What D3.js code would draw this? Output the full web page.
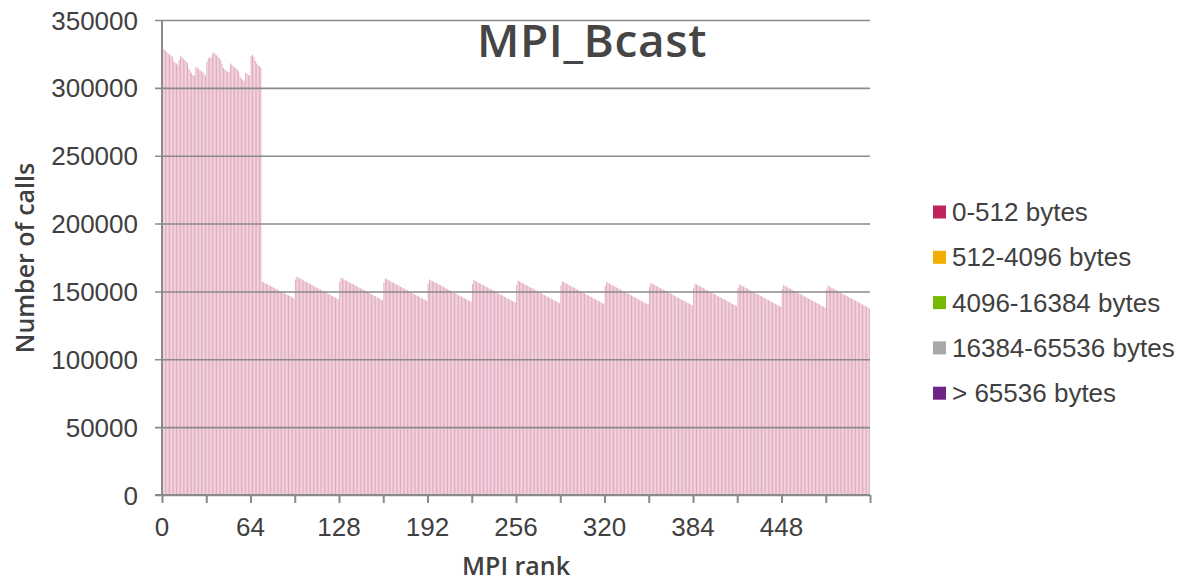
<!DOCTYPE html>
<html>
<head>
<meta charset="utf-8">
<style>
    body {
        margin: 0;
        background: #fff;
    }
    svg {
        display: block;
    }
    .tick-label {
        font-family: "Liberation Sans", Arial, sans-serif;
        font-size: 26px;
        fill: #404040;
    }
    .axis-title {
        font-family: "Open Sans", sans-serif;
        font-size: 25px;
        font-weight: 600;
        fill: #404040;
    }
    .chart-title {
        font-family: "Open Sans", sans-serif;
        font-size: 46px;
        font-weight: 600;
        letter-spacing: 0.6px;
        fill: #454545;
    }
    .legend-label {
        font-family: "Liberation Sans", Arial, sans-serif;
        font-size: 26px;
        fill: #404040;
    }
</style>
</head>
<body>
<script src="https://cdn.jsdelivr.net/npm/d3@7"></script>
<script>

    // number of MPI_Bcast calls per rank (0-512 bytes)
    var calls = [
        // ranks 0-71
        329000, 328500, 327500, 326500, 325500, 324500, 324000, 323000, 319500, 318500,
        318000, 317000, 320500, 323500, 322500, 321500, 320500, 319500, 318500, 314000,
        312500, 311000, 309500, 309000, 315500, 315000, 314000, 313000, 312500, 311500,
        310500, 309000, 319000, 321500, 322500, 322000, 325000, 326000, 325000, 324000,
        323000, 322000, 320500, 317500, 314500, 313500, 312500, 312000, 311500, 318000,
        317000, 316000, 315000, 314500, 313500, 312000, 308500, 307000, 306000, 305000,
        311000, 310500, 309500, 309000, 323500, 324500, 322500, 320000, 318000, 317000,
        316000, 315000,
        // ranks 72-95
        157200, 156700, 156200, 155600, 155100, 154600, 154000, 153500, 153000, 152400,
        151900, 151400, 150800, 150300, 149800, 149200, 148700, 148200, 147600, 147100,
        146600, 146000, 145500, 145000,
        // ranks 96-127
        158800, 160800, 160200, 159700, 159100, 158600, 158000, 157500, 156900, 156400,
        155800, 155300, 154700, 154200, 153600, 153100, 152500, 152000, 151400, 150800,
        150300, 149700, 149200, 148600, 148100, 147500, 147000, 146400, 145900, 145300,
        144800, 144200,
        // ranks 128-159
        157100, 160100, 159500, 159000, 158400, 157900, 157300, 156800, 156200, 155700,
        155100, 154600, 154000, 153500, 152900, 152400, 151800, 151300, 150700, 150100,
        149600, 149000, 148500, 147900, 147400, 146800, 146300, 145700, 145200, 144600,
        144100, 143500,
        // ranks 160-191
        156600, 159600, 159000, 158500, 157900, 157400, 156800, 156300, 155700, 155200,
        154600, 154100, 153500, 153000, 152400, 151900, 151300, 150800, 150200, 149600,
        149100, 148500, 148000, 147400, 146900, 146300, 145800, 145200, 144700, 144100,
        143600, 143000,
        // ranks 192-223
        155900, 158900, 158300, 157800, 157200, 156700, 156100, 155600, 155000, 154500,
        153900, 153400, 152800, 152300, 151700, 151200, 150600, 150100, 149500, 148900,
        148400, 147800, 147300, 146700, 146200, 145600, 145100, 144500, 144000, 143400,
        142900, 142300,
        // ranks 224-255
        155400, 158400, 157800, 157300, 156700, 156200, 155600, 155100, 154500, 154000,
        153400, 152900, 152300, 151800, 151200, 150700, 150100, 149600, 149000, 148400,
        147900, 147300, 146800, 146200, 145700, 145100, 144600, 144000, 143500, 142900,
        142400, 141800,
        // ranks 256-287
        154900, 157900, 157300, 156800, 156200, 155700, 155100, 154600, 154000, 153500,
        152900, 152400, 151800, 151300, 150700, 150200, 149600, 149100, 148500, 147900,
        147400, 146800, 146300, 145700, 145200, 144600, 144100, 143500, 143000, 142400,
        141900, 141300,
        // ranks 288-319
        154400, 157400, 156800, 156300, 155700, 155200, 154600, 154100, 153500, 153000,
        152400, 151900, 151300, 150800, 150200, 149700, 149100, 148600, 148000, 147400,
        146900, 146300, 145800, 145200, 144700, 144100, 143600, 143000, 142500, 141900,
        141400, 140800,
        // ranks 320-351
        153900, 156900, 156300, 155800, 155200, 154700, 154100, 153600, 153000, 152500,
        151900, 151400, 150800, 150300, 149700, 149200, 148600, 148100, 147500, 146900,
        146400, 145800, 145300, 144700, 144200, 143600, 143100, 142500, 142000, 141400,
        140900, 140300,
        // ranks 352-383
        153300, 156300, 155700, 155200, 154600, 154100, 153500, 153000, 152400, 151900,
        151300, 150800, 150200, 149700, 149100, 148600, 148000, 147500, 146900, 146300,
        145800, 145200, 144700, 144100, 143600, 143000, 142500, 141900, 141400, 140800,
        140300, 139700,
        // ranks 384-415
        152700, 155700, 155100, 154600, 154000, 153500, 152900, 152400, 151800, 151300,
        150700, 150200, 149600, 149100, 148500, 148000, 147400, 146900, 146300, 145700,
        145200, 144600, 144100, 143500, 143000, 142400, 141900, 141300, 140800, 140200,
        139700, 139100,
        // ranks 416-447
        152200, 155200, 154600, 154100, 153500, 153000, 152400, 151900, 151300, 150800,
        150200, 149700, 149100, 148600, 148000, 147500, 146900, 146400, 145800, 145200,
        144700, 144100, 143600, 143000, 142500, 141900, 141400, 140800, 140300, 139700,
        139200, 138600,
        // ranks 448-479
        151700, 154700, 154100, 153600, 153000, 152500, 151900, 151400, 150800, 150300,
        149700, 149200, 148600, 148100, 147500, 147000, 146400, 145900, 145300, 144700,
        144200, 143600, 143100, 142500, 142000, 141400, 140900, 140300, 139800, 139200,
        138700, 138100,
        // ranks 480-511
        151200, 154200, 153600, 153100, 152500, 152000, 151400, 150900, 150300, 149800,
        149200, 148700, 148100, 147600, 147000, 146500, 145900, 145400, 144800, 144200,
        143700, 143100, 142600, 142000, 141500, 140900, 140400, 139800, 139300, 138700,
        138200, 137600
    ];

    var ranks = d3.range(calls.length);

    var xTicks = [0, 32, 64, 96, 128, 160, 192, 224, 256, 288, 320, 352, 384, 416, 448, 480, 512];
    var xLabels = [0, 64, 128, 192, 256, 320, 384, 448];
    var yTicks = [0, 50000, 100000, 150000, 200000, 250000, 300000, 350000];

    var legendNames = ["0-512 bytes", "512-4096 bytes", "4096-16384 bytes", "16384-65536 bytes", "> 65536 bytes"];
    var legendColors = ["#c0245c", "#f2ad00", "#76b900", "#a8a8a8", "#6e2585"];

    var width = 1188,
        height = 581,
        plotLeft = 162,
        plotRight = 870,
        plotTop = 20,
        plotBottom = 495,
        axisColor = "#8a8a8a";

    var svg = d3.select("body").append("svg")
        .attr("width", width)
        .attr("height", height);

    var x = d3.scaleBand()
        .domain(ranks)
        .range([plotLeft, plotRight])
        .paddingInner(0.3)
        .paddingOuter(0.1);

    var xPos = d3.scaleLinear()
        .domain([0, calls.length])
        .range([plotLeft, plotRight]);

    var y = d3.scaleLinear()
        .domain([0, 350000])
        .range([plotBottom, plotTop]);

    // bars
    svg.append("g")
        .selectAll("rect")
        .data(calls)
      .enter().append("rect")
        .attr("x", function(d, i) {return x(i)})
        .attr("y", function(d) {return y(d)})
        .attr("width", x.bandwidth())
        .attr("height", function(d) {return y(0) - y(d)})
        .attr("fill", "#e2a8be");

    // y axis with gridlines across the plot
    var yAxis = d3.axisLeft(y)
        .tickValues(yTicks)
        .tickSize(plotRight - plotLeft + 7)
        .tickFormat("");

    var yG = svg.append("g")
        .attr("transform", "translate(" + plotRight + ",0)")
        .call(yAxis);
    yG.select(".domain").remove();
    yG.selectAll(".tick line")
        .attr("stroke", axisColor)
        .attr("stroke-width", 1.6);

    svg.append("g")
        .selectAll("text")
        .data(yTicks)
      .enter().append("text")
        .attr("class", "tick-label")
        .attr("text-anchor", "end")
        .attr("x", 138)
        .attr("y", function(d) {return y(d) + 9.5})
        .text(function(d) {return d});

    svg.append("line")
        .attr("x1", plotLeft)
        .attr("x2", plotLeft)
        .attr("y1", plotTop)
        .attr("y2", plotBottom)
        .attr("stroke", axisColor)
        .attr("stroke-width", 2);

    // x axis
    var xAxis = d3.axisBottom(xPos)
        .tickValues(xTicks)
        .tickSize(8)
        .tickFormat("");

    var xG = svg.append("g")
        .attr("transform", "translate(0," + plotBottom + ")")
        .call(xAxis);
    xG.select(".domain").remove();
    xG.selectAll(".tick line")
        .attr("stroke", axisColor)
        .attr("stroke-width", 2);

    svg.append("line")
        .attr("x1", plotLeft - 7)
        .attr("x2", plotRight)
        .attr("y1", plotBottom)
        .attr("y2", plotBottom)
        .attr("stroke", axisColor)
        .attr("stroke-width", 2);

    svg.append("g")
        .selectAll("text")
        .data(xLabels)
      .enter().append("text")
        .attr("class", "tick-label")
        .attr("text-anchor", "middle")
        .attr("x", function(d) {return xPos(d)})
        .attr("y", 536)
        .text(function(d) {return d});

    // titles
    svg.append("text")
        .attr("class", "chart-title")
        .attr("text-anchor", "middle")
        .attr("x", 592)
        .attr("y", 57)
        .text("MPI_Bcast");

    svg.append("text")
        .attr("class", "axis-title")
        .attr("text-anchor", "middle")
        .attr("x", 516)
        .attr("y", 575)
        .text("MPI rank");

    svg.append("text")
        .attr("class", "axis-title")
        .attr("text-anchor", "middle")
        .attr("transform", "translate(34,258) rotate(-90)")
        .text("Number of calls");

    // legend
    var legend = svg.append("g")
        .selectAll("g")
        .data(legendNames)
      .enter().append("g")
        .attr("transform", function(d, i) {return "translate(933," + (212 + i * 45.3) + ")"});

    legend.append("rect")
        .attr("x", 0)
        .attr("y", -6.5)
        .attr("width", 13)
        .attr("height", 13)
        .attr("fill", function(d, i) {return legendColors[i]});

    legend.append("text")
        .attr("class", "legend-label")
        .attr("x", 19)
        .attr("y", 9)
        .text(function(d) {return d});
</script>
</body>
</html>
